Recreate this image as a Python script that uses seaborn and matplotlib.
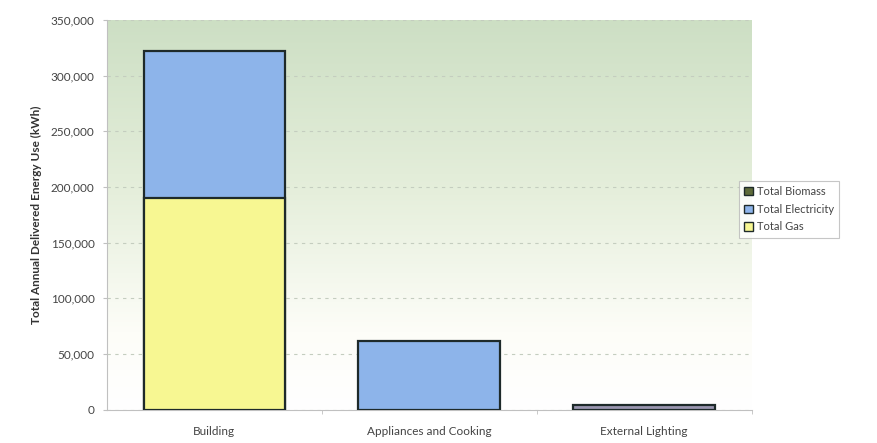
import numpy as np
import pandas as pd
import seaborn as sns
import matplotlib.pyplot as plt
from matplotlib.patches import Patch
from matplotlib.colors import LinearSegmentedColormap

categories = ['Building', 'Appliances and Cooking', 'External Lighting']
gas = [190000, 0, 0]
electricity = [132000, 62000, 4500]
biomass = [0, 0, 0]

df = pd.DataFrame({'category': categories, 'gas': gas,
                   'electricity': electricity, 'biomass': biomass})
df['total'] = df.gas + df.electricity + df.biomass

sns.set_style('white')
plt.rcParams['font.family'] = ['Lato', 'DejaVu Sans']

fig = plt.figure(figsize=(8.77, 4.43), dpi=100)
ax = fig.add_axes([0.122, 0.075, 0.735, 0.88])

# green-to-white gradient background
grad = np.linspace(0, 1, 256).reshape(-1, 1)
cmap = LinearSegmentedColormap.from_list(
    'bg', [(0, '#ffffff'), (0.2, '#fdfdf8'), (0.55, '#e6efdc'), (1, '#cddfc4')])
ax.imshow(grad, aspect='auto', cmap=cmap, extent=[0, 1, 0, 1],
          transform=ax.transAxes, origin='lower', zorder=0)

edge = '#1e2a2a'
sns.barplot(x='category', y='total', data=df, color='#8db4ea', width=0.66,
            saturation=1, edgecolor=edge, linewidth=1.6, ax=ax, zorder=3)
sns.barplot(x='category', y='gas', data=df, color='#f7f792', width=0.66,
            saturation=1, edgecolor=edge, linewidth=1.6, ax=ax, zorder=4)
# external lighting is a thin greyish bar
ax.patches[2].set_facecolor('#9a96b0')
for p in ax.patches[3:]:
    if p.get_height() == 0:
        p.set_visible(False)

ax.set_ylim(0, 350000)
ax.set_xlim(-0.5, 2.5)
ax.set_yticks(np.arange(0, 350001, 50000))
ax.set_xticks([0.5, 1.5, 2.5], minor=True)
ax.yaxis.set_major_formatter(plt.FuncFormatter(lambda v, _: f'{int(v):,}'))
ax.grid(axis='y', color='#c4cdbf', linestyle=(0, (3, 4)), linewidth=0.8, zorder=1)
ax.set_axisbelow(True)
for s in ['top', 'right']:
    ax.spines[s].set_visible(False)
for s in ['left', 'bottom']:
    ax.spines[s].set_color('#c0c0c0')
    ax.spines[s].set_linewidth(0.8)
ax.tick_params(axis='both', colors='#444444', labelsize=8.5, length=3,
               direction='out', left=True, bottom=False, pad=9)
ax.tick_params(axis='x', which='minor', bottom=True, length=3, color='#c0c0c0')
ax.tick_params(axis='y', color='#c0c0c0', pad=6)
ax.set_xlabel('')
ax.set_ylabel('Total Annual Delivered Energy Use (kWh)', fontsize=8.5,
              fontweight='bold', color='#333333', labelpad=6)

handles = [Patch(facecolor='#5e6b3a', edgecolor=edge, label='Total Biomass'),
           Patch(facecolor='#8db4ea', edgecolor=edge, label='Total Electricity'),
           Patch(facecolor='#f7f792', edgecolor=edge, label='Total Gas')]
leg = fig.legend(handles=handles, loc='upper left', bbox_to_anchor=(0.836, 0.605),
                 fontsize=8, frameon=True, fancybox=False, handlelength=0.8,
                 handleheight=0.8, handletextpad=0.3, borderpad=0.5,
                 labelspacing=0.6, labelcolor='#444444')
leg.get_frame().set_edgecolor('#b8b8b8')
leg.get_frame().set_linewidth(0.8)

fig.savefig('out.png', dpi=100)
